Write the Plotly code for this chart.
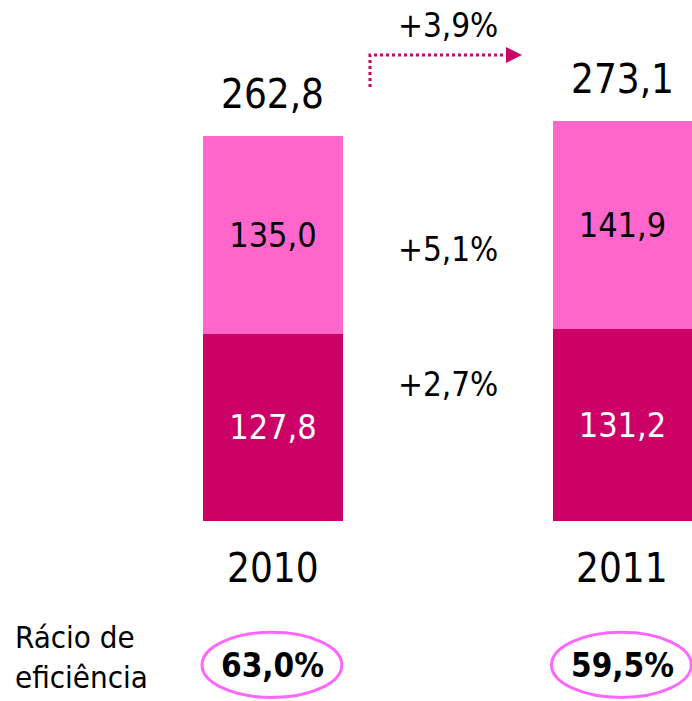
import plotly.graph_objects as go

# Data
years = ["2010", "2011"]
bottom_vals = [127.8, 131.2]   # darker segment
top_vals = [135.0, 141.9]      # lighter segment
efficiency = ["63,0%", "59,5%"]
efficiency_label = "Rácio de<br>eficiência"

totals = [b + t for b, t in zip(bottom_vals, top_vals)]

def pct(a, b):
    return "+" + f"{(b / a - 1) * 100:.1f}".replace(".", ",") + "%"

growth_top = pct(top_vals[0], top_vals[1])
growth_bottom = pct(bottom_vals[0], bottom_vals[1])
growth_total = pct(totals[0], totals[1])

W, H = 692, 701
FONT = "DejaVu Sans Condensed"
DARK = "#CC0066"
LIGHT = "#FF66CC"
RING = "#FF66FF"

fig = go.Figure()
fig.add_trace(go.Bar(
    x=years, y=bottom_vals, marker=dict(color=DARK, line=dict(width=0)),
    texttemplate="%{y:.1f}", textposition="inside", insidetextanchor="middle",
    textfont=dict(family=FONT, size=34, color="white"), width=0.4,
    hoverinfo="skip",
))
fig.add_trace(go.Bar(
    x=years, y=top_vals, marker=dict(color=LIGHT, line=dict(width=0)),
    texttemplate="%{y:.1f}", textposition="inside", insidetextanchor="middle",
    textfont=dict(family=FONT, size=34, color="black"), width=0.4,
    hoverinfo="skip",
))

# totals above the bars, years below
for i, (yr, tot) in enumerate(zip(years, totals)):
    fig.add_annotation(x=i, y=tot, text=f"{tot:.1f}".replace(".", ","),
                       showarrow=False, yanchor="middle", yshift=42,
                       font=dict(family=FONT, size=40, color="black"))
    fig.add_annotation(x=i, y=0, text=yr, showarrow=False, yanchor="middle",
                       yshift=-47, font=dict(family=FONT, size=40, color="black"))

# growth labels between bars
fig.add_annotation(x=0.5, y=185, text=growth_top, showarrow=False,
                   yanchor="middle",
                   font=dict(family=FONT, size=33, color="black"))
fig.add_annotation(x=0.5, y=93, text=growth_bottom, showarrow=False,
                   yanchor="middle",
                   font=dict(family=FONT, size=33, color="black"))
fig.add_annotation(x=448 / W, y=1 - 25 / H, xref="paper", yref="paper",
                   text=growth_total, showarrow=False,
                   xanchor="center", yanchor="middle",
                   font=dict(family=FONT, size=33, color="black"))

# dotted elbow arrow
def px(x, y):
    return x / W, 1 - y / H

x0, y0 = px(370, 87)
x1, y1 = px(370, 55)
x2, y2 = px(507, 55)
fig.add_shape(type="path", xref="paper", yref="paper",
              path=f"M {x0} {y0} L {x1} {y1} L {x2} {y2}",
              line=dict(color=DARK, width=3, dash="dot"))
a1 = px(506, 47); a2 = px(522, 55); a3 = px(506, 63)
fig.add_shape(type="path", xref="paper", yref="paper",
              path=f"M {a1[0]} {a1[1]} L {a2[0]} {a2[1]} L {a3[0]} {a3[1]} Z",
              fillcolor=DARK, line=dict(color=DARK, width=0))

# efficiency ratio row
fig.add_annotation(x=13 / W, y=1 - 657 / H, xref="paper", yref="paper",
                   text=efficiency_label, showarrow=False, xanchor="left",
                   yanchor="middle", align="left",
                   font=dict(family=FONT, size=31, color="black"))
for i, txt in enumerate(efficiency):
    fig.add_shape(type="circle", xref="x", yref="y",
                  x0=i - 0.203, x1=i + 0.197, y0=-120.5, y1=-76,
                  line=dict(color=RING, width=3))
    fig.add_annotation(x=i, y=-98.5, text=f"<b>{txt}</b>", showarrow=False,
                       yanchor="middle",
                       font=dict(family=FONT, size=33, color="black"))

fig.update_layout(
    barmode="stack", width=W, height=H, margin=dict(l=0, r=0, t=0, b=0),
    separators=", ", showlegend=False,
    plot_bgcolor="white", paper_bgcolor="white",
    xaxis=dict(type="category", range=[-0.781, 1.199], showticklabels=False,
               showgrid=False, zeroline=False, visible=False),
    yaxis=dict(range=[-122.9, 355.6], showticklabels=False, showgrid=False,
               zeroline=False, visible=False),
    uniformtext=dict(mode=False),
)

fig.write_html("out.html")
